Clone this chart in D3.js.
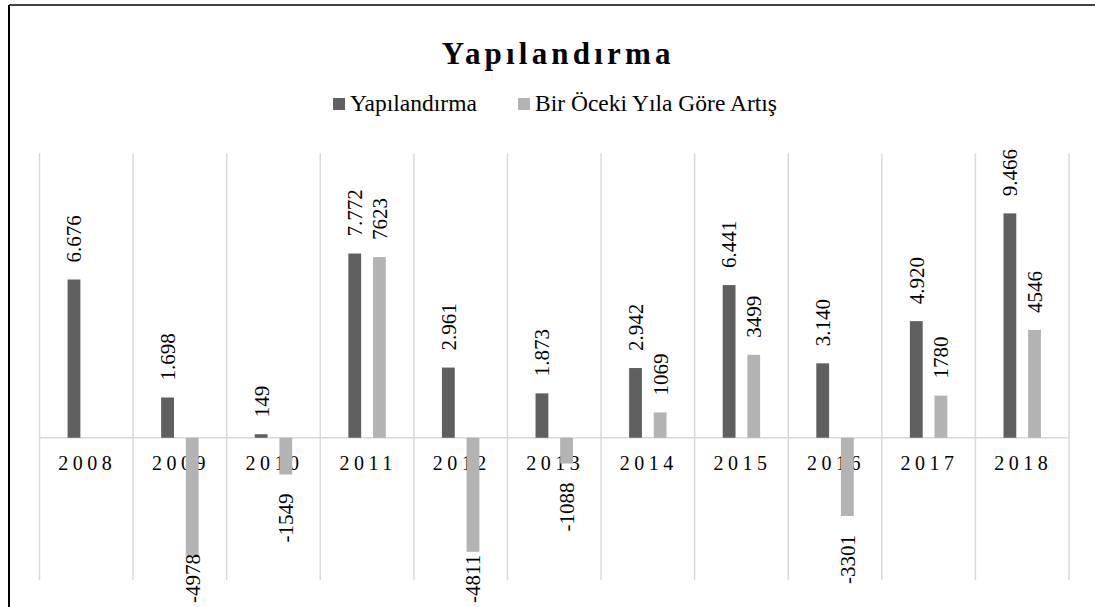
<!DOCTYPE html>
<html>
<head>
<meta charset="utf-8">
<script src="https://cdn.jsdelivr.net/npm/d3@7"></script>
<style>
	body { margin: 0; background: #fff; }
	.grid line { stroke: #d9d9d9; stroke-width: 1.5; }
	text { font-family: "Liberation Serif", "Times New Roman", Times, "DejaVu Serif", serif; fill: #000; }
	.year-label { font-size: 20px; letter-spacing: 4.5px; }
	.bar-label { font-size: 21px; }
	.legend-text { font-size: 23.5px; }
</style>
</head>
<body>
<div id="chart"></div>
<script>

var years = ['2008','2009','2010','2011','2012','2013','2014','2015','2016','2017','2018']
var yapilandirma = [6676, 1698, 149, 7772, 2961, 1873, 2942, 6441, 3140, 4920, 9466]
var artis = [null, -4978, -1549, 7623, -4811, -1088, 1069, 3499, -3301, 1780, 4546]

var seriesNames = ['Yapılandırma', 'Bir Öceki Yıla Göre Artış']
var seriesColors = ['#5f5f5f', '#b3b3b3']
var yDomain = [-6000, 12000]

var W = 1095
var H = 607

var margin = {
	'top' : 153.3,
	'left' : 39.5,
	'right' : 1069,
	'bottom' : 580
}

// turkish style thousands: 6.676
var trFormat = d3.formatLocale({
	'decimal' : ',',
	'thousands' : '.',
	'grouping' : [3],
	'currency' : ['', ''],
	'minus' : '-'
}).format(',d')

var labelFormats = [
	function(v) { return trFormat(v) },
	function(v) { return String(v) }
]

var svg = d3.select('#chart')
	.append('svg')
	.attr('width', W)
	.attr('height', H)

// frame
svg.append('line')
	.attr('x1', 9).attr('y1', 5)
	.attr('x2', W).attr('y2', 5)
	.attr('stroke', '#000')
	.attr('stroke-width', 1.6)

svg.append('line')
	.attr('x1', 9).attr('y1', 5)
	.attr('x2', 9).attr('y2', H)
	.attr('stroke', '#000')
	.attr('stroke-width', 2)

var xScale = d3.scaleBand()
	.domain(years)
	.range([margin.left, margin.right])

var yScale = d3.scaleLinear()
	.domain(yDomain)
	.range([margin.bottom, margin.top])

var subScale = d3.scaleBand()
	.domain([0, 1])
	.range([xScale.bandwidth() * 0.3, xScale.bandwidth() * 0.7])
	.paddingInner(0.48)

// title
svg.append('text')
	.attr('x', (margin.left + margin.right) / 2 + 4)
	.attr('y', 64)
	.attr('text-anchor', 'middle')
	.style('font-size', '31px')
	.style('font-weight', 'bold')
	.style('letter-spacing', '4.2px')
	.text('Yapılandırma')

// legend
var legendX = [333, 518]
var legend = svg.append('g').attr('class', 'legend')

seriesNames.forEach(function(name, i) {

	legend.append('rect')
		.attr('x', legendX[i])
		.attr('y', 98)
		.attr('width', 12)
		.attr('height', 12)
		.attr('fill', seriesColors[i])

	legend.append('text')
		.attr('class', 'legend-text')
		.attr('x', legendX[i] + 17)
		.attr('y', 111)
		.text(name)

})

// vertical grid at category edges
var edges = years.map(function(d) { return xScale(d) })
edges.push(margin.right)

svg.append('g')
	.attr('class', 'grid')
	.selectAll('line')
	.data(edges)
	.enter().append('line')
	.attr('x1', function(d) { return d })
	.attr('x2', function(d) { return d })
	.attr('y1', yScale(yDomain[1]))
	.attr('y2', yScale(yDomain[0]))

// zero line
svg.append('g')
	.attr('class', 'grid')
	.append('line')
	.attr('x1', margin.left)
	.attr('x2', margin.right)
	.attr('y1', yScale(0))
	.attr('y2', yScale(0))

// year labels under zero line
svg.append('g')
	.selectAll('text')
	.data(years)
	.enter().append('text')
	.attr('class', 'year-label')
	.attr('x', function(d) { return xScale(d) + xScale.bandwidth() / 2 + 1 })
	.attr('y', yScale(0) + 32)
	.attr('text-anchor', 'middle')
	.text(function(d) { return d })

var rows = years.map(function(y, i) {
	return { 'year' : y, 'values' : [yapilandirma[i], artis[i]] }
})

var cells = []
rows.forEach(function(r) {
	r.values.forEach(function(v, s) {
		if (v !== null) cells.push({ 'year' : r.year, 'series' : s, 'value' : v })
	})
})

var bars = svg.append('g').attr('class', 'bars')

bars.selectAll('rect')
	.data(cells)
	.enter().append('rect')
	.attr('x', function(d) { return xScale(d.year) + subScale(d.series) })
	.attr('width', subScale.bandwidth())
	.attr('y', function(d) { return yScale(Math.max(0, d.value)) })
	.attr('height', function(d) { return Math.abs(yScale(d.value) - yScale(0)) })
	.attr('fill', function(d) { return seriesColors[d.series] })

// rotated value labels
var labels = svg.append('g').attr('class', 'labels')

labels.selectAll('text')
	.data(cells)
	.enter().append('text')
	.attr('class', 'bar-label')
	.attr('dy', '0.35em')
	.attr('text-anchor', function(d) { return d.value >= 0 ? 'start' : 'end' })
	.text(function(d) { return labelFormats[d.series](d.value) })
	.each(function(d) {

		var _this = d3.select(this)
		var cx = xScale(d.year) + subScale(d.series) + subScale.bandwidth() / 2
		var len = this.getComputedTextLength()
		var y

		if (d.value >= 0) {
			y = yScale(d.value) - 17
		} else {
			y = Math.min(yScale(d.value) + 19, 603 - len)
		}

		_this.attr('transform', 'translate(' + cx + ',' + y + ') rotate(-90)')

	})

</script>
</body>
</html>
